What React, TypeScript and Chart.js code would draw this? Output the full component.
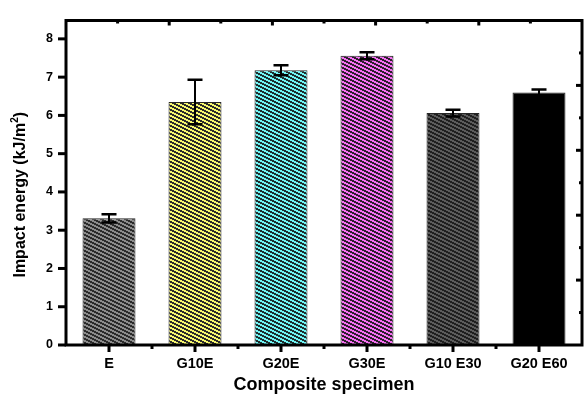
import React, { useEffect, useRef } from 'react';
import { Chart, registerables } from 'chart.js';

Chart.register(...registerables);

const categories = ['E', 'G10E', 'G20E', 'G30E', 'G10 E30', 'G20 E60'];
const impactEnergy = [3.31, 6.35, 7.18, 7.56, 6.06, 6.6];
const impactError = [0.11, 0.58, 0.13, 0.09, 0.09, 0.08];
const yTickValues = [0, 1, 2, 3, 4, 5, 6, 7, 8];
const yAxisMax = 8.48;
const yTitleMain = 'Impact energy (kJ/m';
const yTitleSup = '2';
const yTitleEnd = ')';
const xTitle = 'Composite specimen';

const fillColors = ['#8c8c8c', '#f7f76e', '#70f5f5', '#f570f2', '#5c5c5c', '#000000'];
const hatchColors = ['#2b2b2b', '#2b2b2b', '#1e2e2e', '#2e1e2e', '#1f1f1f', ''];

const FONT = "'Liberation Sans', Arial, sans-serif";

function hexToRgb(hex: string): [number, number, number] {
  const n = parseInt(hex.slice(1), 16);
  return [(n >> 16) & 255, (n >> 8) & 255, n & 255];
}

function makeHatch(ctx: CanvasRenderingContext2D, bg: string, fg: string): CanvasPattern | string {
  if (!fg) return bg;
  const w = 8;
  const h = 4;
  const c = document.createElement('canvas');
  c.width = w;
  c.height = h;
  const g = c.getContext('2d')!;
  const img = g.createImageData(w, h);
  const b = hexToRgb(bg);
  const f = hexToRgb(fg);
  for (let y = 0; y < h; y++) {
    for (let x = 0; x < w; x++) {
      const k = (((y - Math.floor(x / 2)) % h) + h) % h;
      const col = k < 2 ? f : b;
      const idx = (y * w + x) * 4;
      img.data[idx] = col[0];
      img.data[idx + 1] = col[1];
      img.data[idx + 2] = col[2];
      img.data[idx + 3] = 255;
    }
  }
  g.putImageData(img, 0, 0);
  return ctx.createPattern(c, 'repeat') as CanvasPattern;
}

const errorBarPlugin = {
  id: 'errorBars',
  afterDatasetsDraw(chart: any) {
    const ctx = chart.ctx;
    const meta = chart.getDatasetMeta(0);
    const y = chart.scales.y;
    ctx.save();
    ctx.strokeStyle = '#000';
    meta.data.forEach((el: any, i: number) => {
      const v = impactEnergy[i];
      const e = impactError[i];
      const yt = y.getPixelForValue(v + e);
      const yb = y.getPixelForValue(v - e);
      const x = el.x;
      ctx.lineWidth = 2;
      ctx.beginPath();
      ctx.moveTo(x, yt);
      ctx.lineTo(x, yb);
      ctx.stroke();
      ctx.lineWidth = 2.5;
      ctx.beginPath();
      ctx.moveTo(x - 7.5, yt);
      ctx.lineTo(x + 7.5, yt);
      ctx.moveTo(x - 7.5, yb);
      ctx.lineTo(x + 7.5, yb);
      ctx.stroke();
    });
    ctx.restore();
  },
};

const framePlugin = {
  id: 'frame',
  afterDraw(chart: any) {
    const ctx = chart.ctx;
    const a = chart.chartArea;
    const xs = chart.scales.x;
    const ys = chart.scales.y;
    ctx.save();
    ctx.strokeStyle = '#000';
    ctx.fillStyle = '#000';
    ctx.lineWidth = 3;
    ctx.strokeRect(a.left, a.top, a.right - a.left, a.bottom - a.top);
    ctx.lineCap = 'butt';
    ctx.lineWidth = 3;
    yTickValues.forEach((v) => {
      const py = ys.getPixelForValue(v);
      ctx.beginPath();
      ctx.moveTo(a.left - 8, py);
      ctx.lineTo(a.left, py);
      ctx.stroke();
    });
    categories.forEach((_, i) => {
      const px = xs.getPixelForValue(i);
      ctx.beginPath();
      ctx.moveTo(px, a.bottom);
      ctx.lineTo(px, a.bottom + 7);
      ctx.stroke();
      if (i < categories.length - 1) {
        const mx = xs.getPixelForValue(i + 0.5);
        ctx.beginPath();
        ctx.moveTo(mx, a.bottom);
        ctx.lineTo(mx, a.bottom + 4);
        ctx.stroke();
      }
    });
    const n = 10;
    for (let i = 1; i < n; i++) {
      const major = i % 2 === 0;
      const px = a.left + ((a.right - a.left) * i) / n;
      ctx.beginPath();
      ctx.moveTo(px, a.top);
      ctx.lineTo(px, a.top + (major ? 5 : 3));
      ctx.stroke();
      const py = a.bottom - ((a.bottom - a.top) * i) / n;
      ctx.beginPath();
      ctx.moveTo(a.right, py);
      ctx.lineTo(a.right - (major ? 6 : 3), py);
      ctx.stroke();
    }
    ctx.fillStyle = '#000';
    ctx.textBaseline = 'middle';
    ctx.font = `bold 18px ${FONT}`;
    ctx.textAlign = 'center';
    ctx.fillText(xTitle, (a.left + a.right) / 2, 385);

    ctx.save();
    ctx.translate(21, (a.top + a.bottom) / 2 + 12);
    ctx.rotate(-Math.PI / 2);
    const mainFont = `bold 16px ${FONT}`;
    const supFont = `bold 10px ${FONT}`;
    ctx.font = mainFont;
    const w1 = ctx.measureText(yTitleMain).width;
    const w3 = ctx.measureText(yTitleEnd).width;
    ctx.font = supFont;
    const w2 = ctx.measureText(yTitleSup).width;
    const total = w1 + w2 + w3;
    let x0 = -total / 2;
    ctx.textAlign = 'left';
    ctx.font = mainFont;
    ctx.fillText(yTitleMain, x0, 0);
    x0 += w1;
    ctx.font = supFont;
    ctx.fillText(yTitleSup, x0, -6);
    x0 += w2;
    ctx.font = mainFont;
    ctx.fillText(yTitleEnd, x0, 0);
    ctx.restore();

    ctx.restore();
  },
};

export default function App() {
  const ref = useRef<HTMLCanvasElement>(null);

  useEffect(() => {
    const canvas = ref.current!;
    const ctx = canvas.getContext('2d')!;
    const bg = categories.map((_, i) => makeHatch(ctx, fillColors[i], hatchColors[i]));
    const chart = new Chart(ctx, {
      type: 'bar',
      data: {
        labels: categories,
        datasets: [
          {
            data: impactEnergy,
            backgroundColor: bg as any,
            borderColor: '#262626',
            borderWidth: 1,
            barPercentage: 0.616,
            categoryPercentage: 1,
          },
        ],
      },
      options: {
        responsive: false,
        animation: false,
        layout: { padding: { left: 0, top: 10, right: 2, bottom: 0 } },
        plugins: { legend: { display: false }, tooltip: { enabled: false }, title: { display: false } },
        scales: {
          x: {
            grid: { display: false, drawTicks: false },
            border: { display: false },
            ticks: {
              color: '#000',
              font: { family: FONT, size: 14.5, weight: 'bold' },
              padding: 10,
              maxRotation: 0,
              autoSkip: false,
            },
            afterFit(scale: any) {
              scale.height = 51;
            },
          },
          y: {
            min: 0,
            max: yAxisMax,
            grid: { display: false, drawTicks: false },
            border: { display: false },
            afterBuildTicks(scale: any) {
              scale.ticks = yTickValues.map((v) => ({ value: v }));
            },
            ticks: {
              color: '#000',
              font: { family: FONT, size: 12.5, weight: 'bold' },
              padding: 13,
            },
            afterFit(scale: any) {
              scale.width = 66;
            },
          },
        },
      },
      plugins: [errorBarPlugin, framePlugin],
    });
    return () => chart.destroy();
  }, []);

  return (
    <div style={{ position: 'fixed', left: 0, top: 0, width: 584, height: 396, background: '#fff' }}>
      <canvas ref={ref} width={584} height={396} style={{ display: 'block' }} />
    </div>
  );
}
